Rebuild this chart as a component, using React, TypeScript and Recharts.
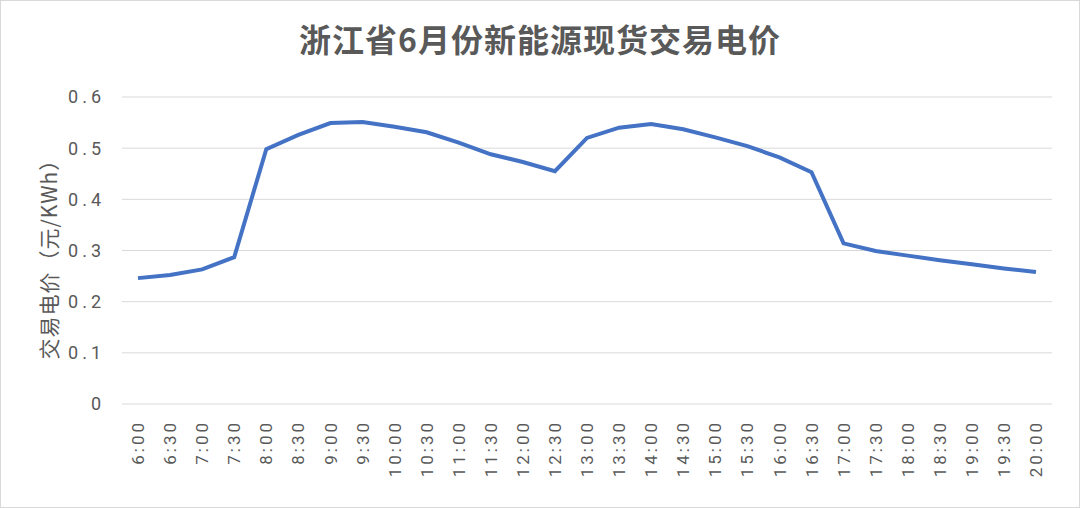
import { LineChart, Line, XAxis, YAxis, CartesianGrid } from 'recharts'

const times = [
  '6:00', '6:30', '7:00', '7:30', '8:00', '8:30', '9:00', '9:30', '10:00', '10:30',
  '11:00', '11:30', '12:00', '12:30', '13:00', '13:30', '14:00', '14:30', '15:00', '15:30',
  '16:00', '16:30', '17:00', '17:30', '18:00', '18:30', '19:00', '19:30', '20:00',
]
const prices = [
  0.246, 0.252, 0.263, 0.287, 0.498, 0.526, 0.549, 0.551, 0.542, 0.531,
  0.511, 0.488, 0.473, 0.455, 0.52, 0.54, 0.547, 0.537, 0.521, 0.504,
  0.482, 0.453, 0.314, 0.299, 0.29, 0.281, 0.273, 0.265, 0.258,
]
const yTicks = [0, 0.1, 0.2, 0.3, 0.4, 0.5, 0.6]

const title = '浙江省6月份新能源现货交易电价'
const yLabel = '交易电价（元/KWh）'

const font = '"Noto Sans CJK SC", "Noto Sans", sans-serif'
const tickFont = 'Roboto, "Noto Sans", sans-serif'
const grey = '#595959'

const data = times.map((t, i) => ({ time: t, price: prices[i] }))

function TimeTick(props: any) {
  const { x, y, payload } = props
  return (
    <g transform={`translate(${x},${y})`}>
      <text
        transform="rotate(-90)"
        x={-14}
        dy="0.36em"
        textAnchor="end"
        fill={grey}
        fontSize={17}
        letterSpacing={3}
        fontFamily={tickFont}
      >
        {payload.value}
      </text>
    </g>
  )
}

export default function App() {
  return (
    <div
      style={{
        position: 'absolute',
        left: 0,
        top: 0,
        width: 1080,
        height: 508,
        background: '#fff',
        fontFamily: font,
      }}
    >
      <div
        style={{
          position: 'absolute',
          inset: 0,
          border: '1px solid #d9d9d9',
          boxSizing: 'border-box',
          pointerEvents: 'none',
        }}
      />
      <div
        style={{
          position: 'absolute',
          left: 0,
          width: 1080,
          top: 20,
          textAlign: 'center',
          fontSize: 32,
          lineHeight: '36px',
          fontWeight: 'bold',
          letterSpacing: 1,
          color: grey,
        }}
      >
        {title}
      </div>
      <div
        style={{
          position: 'absolute',
          left: 48,
          top: 254,
          transform: 'translate(-50%, -50%) rotate(-90deg)',
          whiteSpace: 'nowrap',
          fontSize: 21,
          letterSpacing: 1,
          color: grey,
        }}
      >
        {yLabel}
      </div>
      <LineChart
        width={1080}
        height={508}
        data={data}
        margin={{ top: 97, right: 28, bottom: 0, left: 0 }}
      >
        <CartesianGrid vertical={false} stroke="#d9d9d9" strokeWidth={1} />
        <XAxis
          dataKey="time"
          interval={0}
          height={104}
          axisLine={false}
          tickLine={false}
          tickSize={0}
          padding={{ left: 16, right: 16 }}
          tick={<TimeTick />}
        />
        <YAxis
          width={122}
          domain={[0, 0.6]}
          ticks={yTicks}
          axisLine={false}
          tickLine={false}
          tickSize={0}
          tickMargin={17}
          tick={{ fill: grey, fontSize: 18, letterSpacing: 4, fontFamily: tickFont }}
        />
        <Line
          type="linear"
          dataKey="price"
          stroke="#4472C4"
          strokeWidth={4}
          dot={false}
          isAnimationActive={false}
        />
      </LineChart>
    </div>
  )
}
